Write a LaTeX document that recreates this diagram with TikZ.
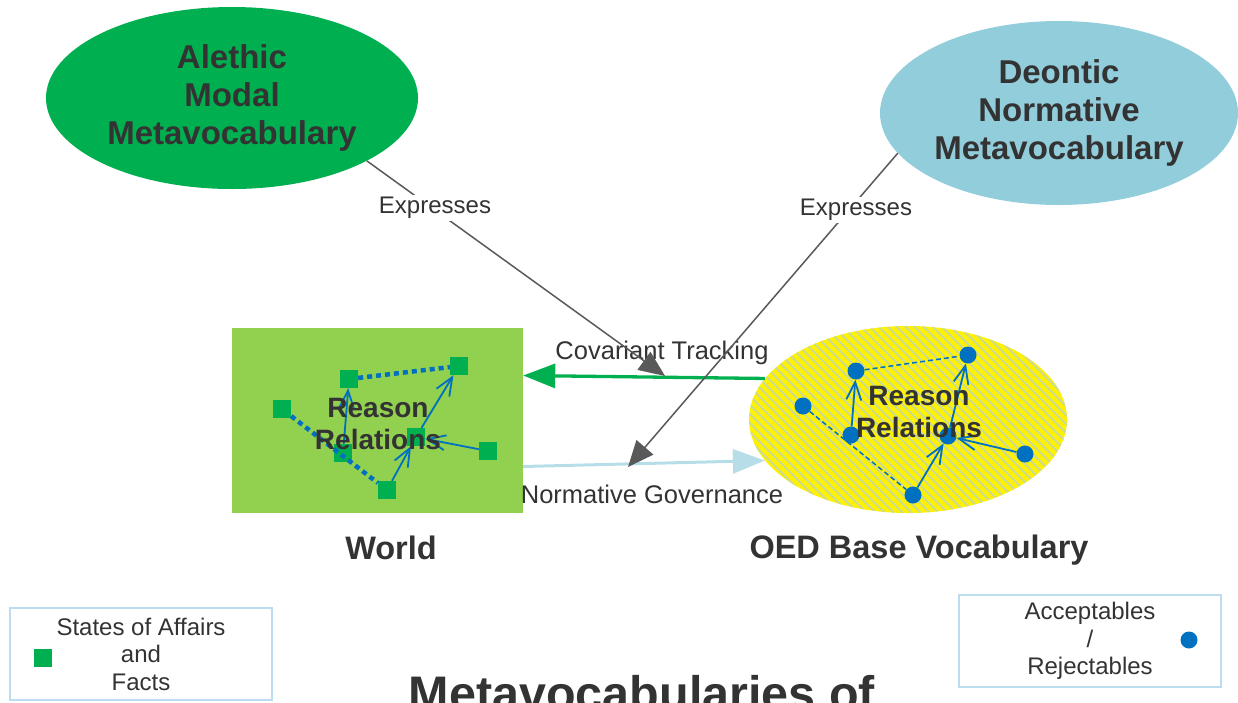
\documentclass[tikz,border=0pt]{standalone}
\usepackage{fontspec}
\setmainfont{Liberation Sans}
\usetikzlibrary{arrows.meta,shapes.geometric,calc,positioning}
\definecolor{alethiccolor}{RGB}{0,176,80}
\definecolor{deonticcolor}{RGB}{146,205,220}
\definecolor{worldcolor}{RGB}{146,208,80}
\definecolor{relcolor}{RGB}{0,112,192}
\definecolor{govcolor}{RGB}{183,222,232}
\definecolor{exprcolor}{RGB}{89,89,89}
\definecolor{textdark}{RGB}{51,51,51}
\definecolor{legendline}{RGB}{190,220,240}
\definecolor{stripecolor}{RGB}{205,218,150}

\begin{document}
\begin{tikzpicture}[x=1pt,y=-1pt,
        metaellipse/.style={ellipse, inner sep=0pt, text=textdark, align=center, font=\fontsize{33}{38}\selectfont\bfseries},
        stateitem/.style={rectangle, fill=alethiccolor, minimum size=18pt, inner sep=0pt},
        accitem/.style={circle, fill=relcolor, minimum size=17pt, inner sep=0pt},
        reltext/.style={text=textdark, align=center, font=\fontsize{28}{32}\selectfont\bfseries},
        bigtitle/.style={text=textdark, font=\fontsize{32.5}{38}\selectfont\bfseries},
        lbl/.style={text=textdark, fill=white, inner sep=2pt, font=\fontsize{24}{28}\selectfont},
        arrowlbl/.style={text=textdark, font=\fontsize{25.5}{30}\selectfont},
        legendbox/.style={draw=legendline, line width=1.5pt, minimum width=262pt, minimum height=92pt, text=textdark, align=center, font=\fontsize{24}{27.5}\selectfont},
        exprline/.style={draw=exprcolor, line width=1.5pt, -{Triangle[length=26pt,width=22pt]}},
        relarrow/.style={draw=relcolor, line width=1.8pt, -{Straight Barb[length=18pt,width=15pt]}},
        dotrel/.style={draw=relcolor, line width=4.5pt, dash pattern=on 5pt off 4pt},
        dashrel/.style={draw=relcolor, line width=1.5pt, dash pattern=on 5pt off 3pt},
        stripe/.style={draw=stripecolor, line width=2pt}
    ]
        \clip (0,0) rectangle (1238,702);

        \node[metaellipse, fill=alethiccolor, minimum width=372pt, minimum height=182pt] (alethic) at (232,98) {Alethic\\Modal\\Metavocabulary};
        \node[metaellipse, fill=deonticcolor, minimum width=358pt, minimum height=184pt] (deontic) at (1059,113) {Deontic\\Normative\\Metavocabulary};

        \node[rectangle, fill=worldcolor, minimum width=291pt, minimum height=185pt, inner sep=0pt] (world) at (377.5,420.5) {};
        \node[ellipse, fill=yellow, minimum width=318pt, minimum height=187pt, inner sep=0pt,
            path picture={
                \foreach \k in {0,...,62}
                    \draw[stripe] ($(path picture bounding box.north west)+(\k*9-200,-5)$) -- ++(210,210);
            }] (oed) at (908,419.5) {};

        \node[bigtitle] (worldlbl) at (391,548) {World};
        \node[bigtitle] (oedlbl) at (919,550) {OED Base Vocabulary};

        % states of affairs in the world
        \node[stateitem] (s1) at (349,379) {};
        \node[stateitem] (s2) at (459,366) {};
        \node[stateitem] (s3) at (282,409) {};
        \node[stateitem] (s4) at (416,437) {};
        \node[stateitem] (s5) at (343,453) {};
        \node[stateitem] (s6) at (488,451) {};
        \node[stateitem] (s7) at (387,490) {};
        \draw[dotrel] (s1) -- (s2);
        \draw[dotrel] (s3) -- (s7);
        \draw[relarrow] (s5) -- (s1);
        \draw[relarrow] (s4) -- (s2);
        \draw[relarrow] (s7) -- (s4);
        \draw[relarrow] (s6) -- (s4);

        % acceptables / rejectables
        \node[accitem] (a1) at (856,371) {};
        \node[accitem] (a2) at (968,355) {};
        \node[accitem] (a3) at (803,406) {};
        \node[accitem] (a4) at (851,435) {};
        \node[accitem] (a5) at (948,436) {};
        \node[accitem] (a6) at (1025,454) {};
        \node[accitem] (a7) at (913,495) {};
        \draw[dashrel] (a1) -- (a2);
        \draw[dashrel] (a3) -- (a7);
        \draw[relarrow] (a4) -- (a1);
        \draw[relarrow] (a5) -- (a2);
        \draw[relarrow] (a7) -- (a5);
        \draw[relarrow] (a6) -- (a5);

        \node[reltext] (rel1) at (378,424) {Reason\\Relations};
        \node[reltext] (rel2) at (919,412) {Reason\\Relations};

        % tracking and governance
        \draw[alethiccolor, line width=3.3pt, -{Triangle[length=32pt,width=24pt]}] (oed.164) -- ([yshift=45pt]world.east);
        \draw[govcolor, line width=3pt, -{Triangle[length=32pt,width=24pt]}] ([yshift=-46pt]world.east) -- (oed.196);
        \node[arrowlbl] (covlbl) at (662,353) {Covariant Tracking};
        \node[arrowlbl] (govlbl) at (652,494) {Normative Governance};

        \coordinate (tip1) at (665,376);
        \coordinate (tip2) at (628,467);
        \draw[exprline] (alethic.-25) -- (tip1);
        \draw[exprline] (deontic.194) -- (tip2);
        \node[lbl] (ex1) at (435,208) {Expresses};
        \node[lbl] (ex2) at (856,210) {Expresses};

        % legends
        \node[legendbox] (leg1) at (141,654) {States of Affairs\\and\\Facts};
        \node[stateitem] (leg1sym) at (43,658) {};
        \node[legendbox] (leg2) at (1090,641) {Acceptables\\/\\Rejectables};
        \node[accitem] (leg2sym) at (1189,640) {};

        \node[text=textdark, font=\fontsize{48.5}{56}\selectfont\bfseries, anchor=base] (title) at (642,710) {Metavocabularies of};
    \end{tikzpicture}
\end{document}
